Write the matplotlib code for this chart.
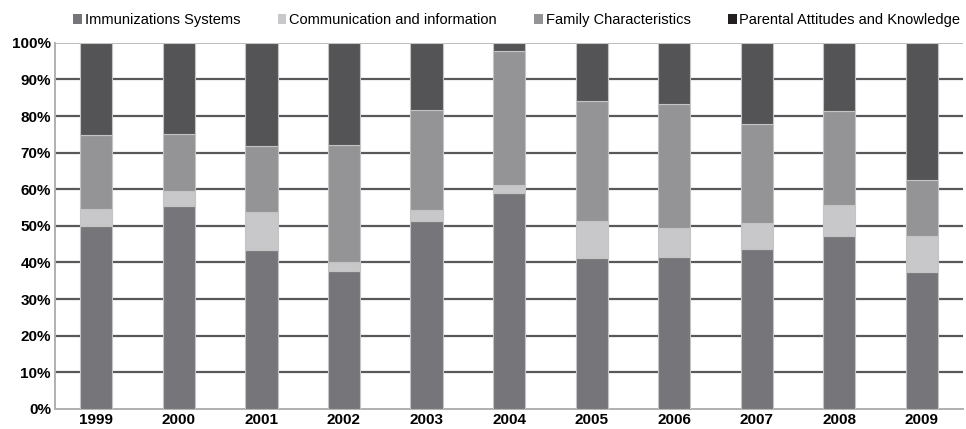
import matplotlib.pyplot as plt
from matplotlib.patches import Patch
import numpy as np

plt.rcParams['font.family'] = ['Liberation Sans', 'DejaVu Sans']

years = ['1999', '2000', '2001', '2002', '2003', '2004', '2005', '2006', '2007', '2008', '2009']
series = ['Immunizations Systems', 'Communication and information',
          'Family Characteristics', 'Parental Attitudes and Knowledge']
# shares in percent
immunization = [50.0, 55.5, 43.4, 37.7, 51.4, 58.9, 41.3, 41.6, 43.7, 47.3, 37.4]
communication = [4.6, 4.1, 10.5, 2.3, 3.0, 2.3, 10.1, 7.9, 7.1, 8.4, 9.9]
family = [20.3, 15.4, 17.9, 32.0, 27.3, 36.6, 32.8, 33.8, 27.1, 25.7, 15.2]
parental = [25.1, 25.0, 28.2, 28.0, 18.3, 2.2, 15.8, 16.7, 22.1, 18.6, 37.5]

colors = ['#76767a', '#c8c8ca', '#949496', '#545456']
legend_colors = ['#76767a', '#c8c8ca', '#949496', '#231f20']

fig = plt.figure(figsize=(9.66, 4.29), dpi=100)
ax = fig.add_axes([0.057, 0.047, 0.940, 0.853])

x = np.arange(len(years))
bottom = np.zeros(len(years))
for vals, col in zip([immunization, communication, family, parental], colors):
    ax.bar(x, vals, 0.39, bottom=bottom, color=col, edgecolor='#c4c4c4',
           linewidth=0.8, zorder=3)
    bottom += np.array(vals)

ax.set_xlim(-0.5, len(years) - 0.5)
ax.set_ylim(0, 100)
ax.set_yticks(range(0, 101, 10))
ax.set_yticklabels([f'{v}%' for v in range(0, 101, 10)])
ax.set_xticks(x)
ax.set_xticklabels(years)
for lab in ax.get_xticklabels() + ax.get_yticklabels():
    lab.set_fontweight('bold')
    lab.set_fontsize(11)
ax.tick_params(axis='y', length=0, pad=3)
ax.tick_params(axis='x', length=0, pad=3)

for v in range(10, 100, 10):
    ax.axhline(v, color='#58585a', linewidth=1.6, zorder=1)
ax.axhline(100, color='#b0b0b0', linewidth=1.2, zorder=1)

for side in ['top', 'right']:
    ax.spines[side].set_visible(False)
for side in ['left', 'bottom']:
    ax.spines[side].set_color('#b0b0b0')
    ax.spines[side].set_linewidth(1.4)

handles = [Patch(facecolor=c, edgecolor='none') for c in legend_colors]
fig.legend(handles, series, loc='upper center', bbox_to_anchor=(0.535, 1.0),
           ncol=4, frameon=False, fontsize=10.5, handlelength=0.6, handleheight=0.6,
           handletextpad=0.2, columnspacing=2.55)

fig.savefig('out.png', dpi=100)
